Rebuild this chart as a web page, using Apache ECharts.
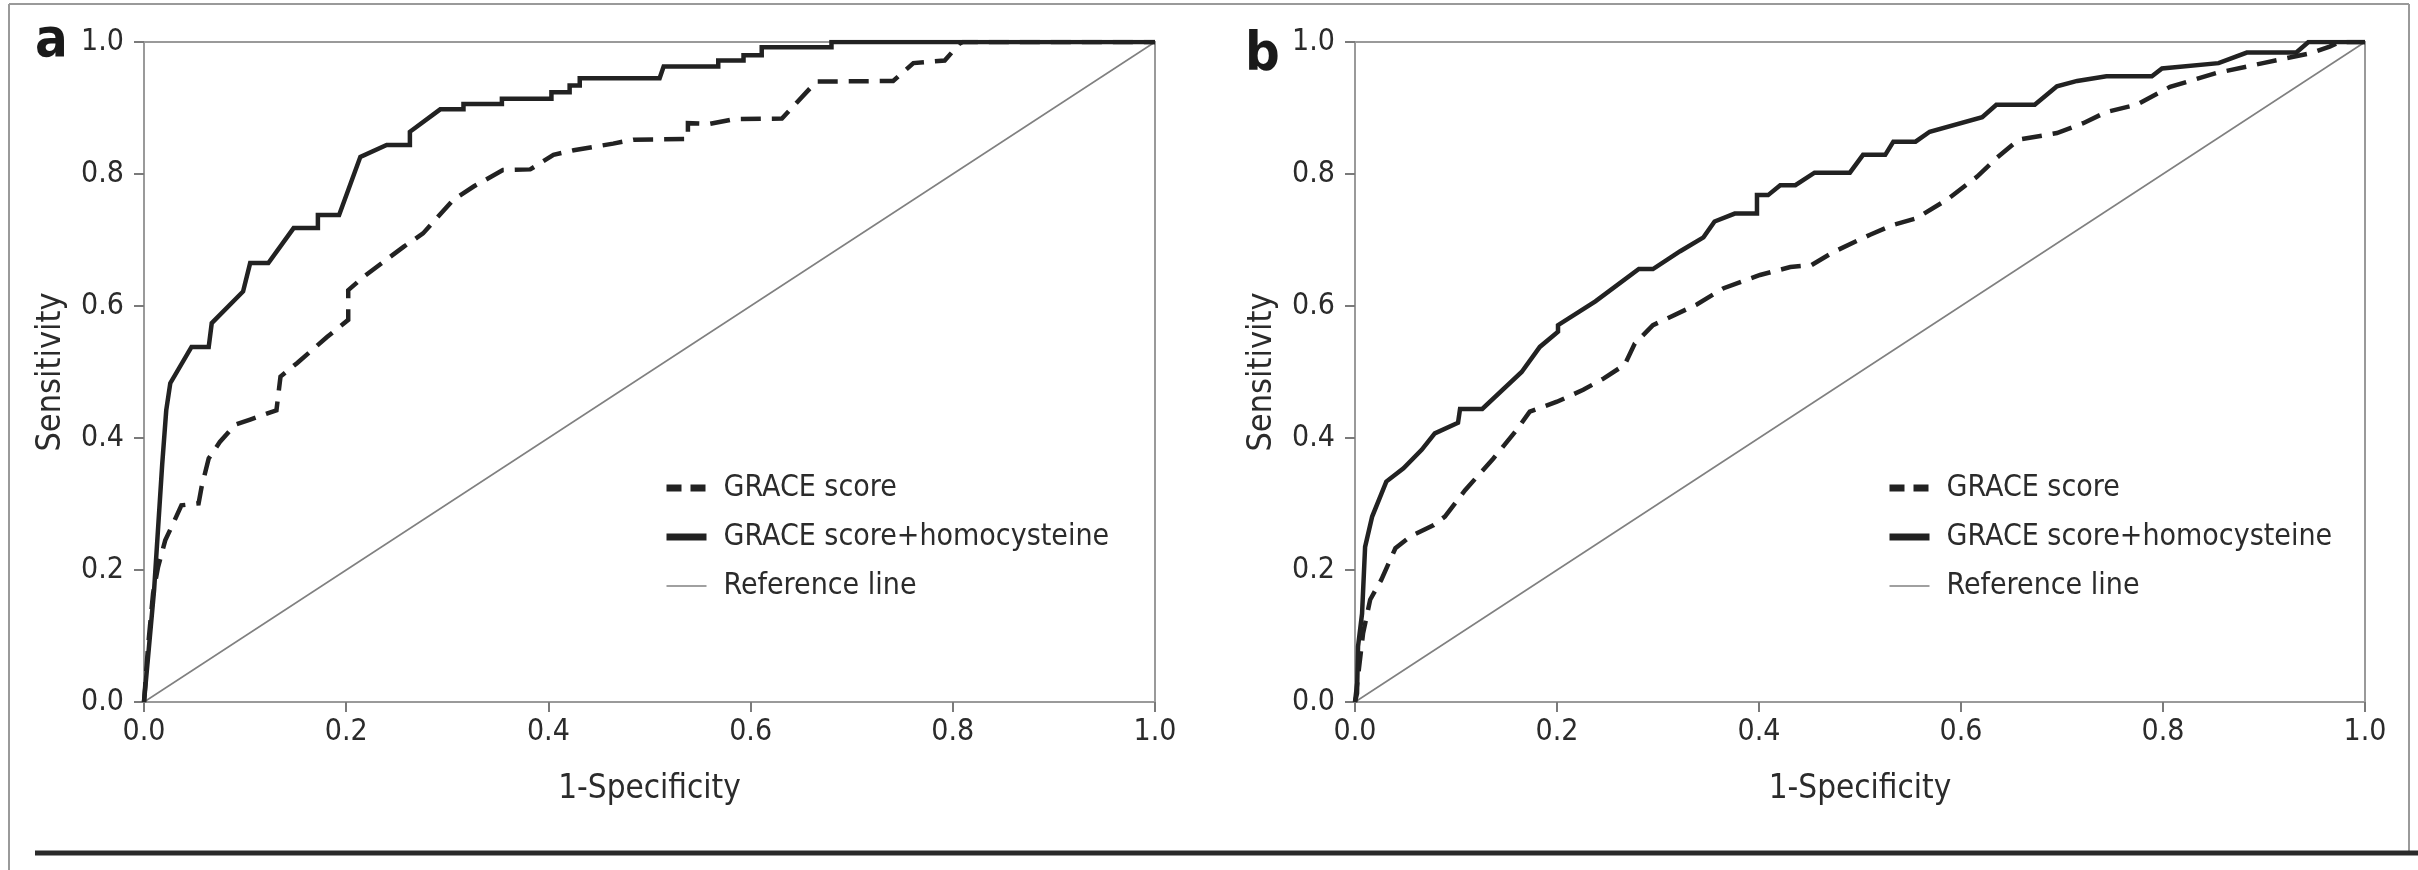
<!DOCTYPE html>
<html>
<head>
<meta charset="utf-8">
<title>ROC curves: GRACE score vs GRACE score + homocysteine</title>
<script src="https://cdn.jsdelivr.net/npm/echarts@6/dist/echarts.min.js"></script>
<style>
  html, body { margin: 0; padding: 0; background: #ffffff; }
  #chart { width: 2418px; height: 870px; }
</style>
</head>
<body>
<div id="chart"></div>
<script>
// ---- Data: ROC coordinates (1-specificity, sensitivity) ----

// Panel a
const aGraceFpr = [0, 0.004, 0.009, 0.014, 0.021, 0.029, 0.037, 0.054, 0.057, 0.064, 0.075, 0.090, 0.105, 0.131, 0.135, 0.151, 0.181, 0.202, 0.202, 0.217, 0.257, 0.276, 0.306, 0.326, 0.355, 0.382, 0.405, 0.425, 0.464, 0.484, 0.538, 0.538, 0.560, 0.583, 0.631, 0.665, 0.741, 0.761, 0.792, 0.807, 0.810, 1.0];
const aGraceTpr = [0, 0.084, 0.165, 0.205, 0.245, 0.271, 0.298, 0.301, 0.326, 0.369, 0.394, 0.420, 0.428, 0.442, 0.493, 0.513, 0.553, 0.579, 0.624, 0.644, 0.690, 0.710, 0.761, 0.781, 0.806, 0.807, 0.829, 0.836, 0.846, 0.852, 0.853, 0.877, 0.876, 0.883, 0.884, 0.940, 0.941, 0.968, 0.972, 0.998, 1.0, 1.0];

const aHcyFpr = [0, 0.010, 0.018, 0.022, 0.026, 0.047, 0.064, 0.067, 0.098, 0.105, 0.123, 0.148, 0.172, 0.172, 0.193, 0.214, 0.240, 0.263, 0.263, 0.293, 0.316, 0.316, 0.354, 0.354, 0.403, 0.403, 0.421, 0.421, 0.431, 0.431, 0.510, 0.514, 0.568, 0.568, 0.593, 0.593, 0.611, 0.611, 0.680, 0.680, 1.0];
const aHcyTpr = [0, 0.17, 0.36, 0.442, 0.483, 0.538, 0.538, 0.574, 0.622, 0.665, 0.665, 0.718, 0.718, 0.738, 0.738, 0.826, 0.844, 0.844, 0.864, 0.898, 0.898, 0.906, 0.906, 0.914, 0.914, 0.924, 0.924, 0.934, 0.934, 0.945, 0.945, 0.963, 0.963, 0.972, 0.972, 0.980, 0.980, 0.992, 0.992, 1.0, 1.0];

// Panel b
const bGraceFpr = [0, 0.008, 0.015, 0.026, 0.040, 0.055, 0.078, 0.089, 0.109, 0.137, 0.160, 0.173, 0.200, 0.226, 0.246, 0.267, 0.277, 0.295, 0.338, 0.365, 0.401, 0.431, 0.452, 0.474, 0.510, 0.533, 0.556, 0.586, 0.616, 0.635, 0.657, 0.695, 0.721, 0.744, 0.774, 0.807, 0.853, 0.899, 0.946, 0.965, 0.975, 1.0];
const bGraceTpr = [0, 0.104, 0.155, 0.185, 0.233, 0.251, 0.268, 0.281, 0.321, 0.369, 0.412, 0.440, 0.455, 0.473, 0.490, 0.511, 0.543, 0.571, 0.602, 0.627, 0.647, 0.659, 0.662, 0.682, 0.708, 0.723, 0.733, 0.761, 0.796, 0.824, 0.852, 0.862, 0.877, 0.894, 0.905, 0.932, 0.953, 0.968, 0.983, 0.993, 1.0, 1.0];

const bHcyFpr = [0, 0.002, 0.003, 0.007, 0.010, 0.017, 0.031, 0.048, 0.066, 0.079, 0.102, 0.104, 0.126, 0.165, 0.183, 0.201, 0.201, 0.238, 0.281, 0.295, 0.322, 0.345, 0.356, 0.376, 0.398, 0.398, 0.409, 0.421, 0.436, 0.455, 0.490, 0.503, 0.525, 0.533, 0.555, 0.569, 0.621, 0.635, 0.673, 0.695, 0.715, 0.744, 0.789, 0.799, 0.855, 0.883, 0.932, 0.944, 1.0];
const bHcyTpr = [0, 0.013, 0.084, 0.134, 0.235, 0.281, 0.334, 0.354, 0.382, 0.407, 0.423, 0.444, 0.444, 0.500, 0.538, 0.561, 0.571, 0.607, 0.656, 0.656, 0.683, 0.704, 0.728, 0.740, 0.740, 0.768, 0.768, 0.783, 0.783, 0.802, 0.802, 0.829, 0.829, 0.849, 0.849, 0.864, 0.886, 0.905, 0.905, 0.933, 0.941, 0.948, 0.948, 0.960, 0.968, 0.984, 0.984, 1.0, 1.0];

// Chance diagonal
const refFpr = [0, 1];
const refTpr = [0, 1];

const seriesNames = ['GRACE score', 'GRACE score+homocysteine', 'Reference line'];
const panelLetters = ['a', 'b'];
const xAxisTitle = '1-Specificity';
const yAxisTitle = 'Sensitivity';

// ---- Styling ----
const FONT = "'DejaVu Sans Condensed', 'Liberation Sans Narrow', sans-serif";
const INK = '#222222';
const REF_GREY = '#808080';
const AXIS_GREY = '#9a9a9a';
const TEXT = '#2b2b2b';

const pairs = (xs, ys) => xs.map((x, i) => [x, ys[i]]);

const grids = [
  { left: 144, top: 42, width: 1011, height: 660 },
  { left: 1355, top: 42, width: 1010, height: 660 }
];

function makeXAxis(gi) {
  return {
    type: 'value', gridIndex: gi, min: 0, max: 1, interval: 0.2,
    axisLine: { show: true, onZero: false, lineStyle: { color: AXIS_GREY, width: 2 } },
    axisTick: { show: true, length: 10, lineStyle: { color: '#7a7a7a', width: 2 } },
    splitLine: { show: false },
    axisLabel: { formatter: v => v.toFixed(1), fontSize: 30, fontFamily: FONT, color: TEXT, margin: 15 },
    name: xAxisTitle, nameLocation: 'middle', nameGap: 71,
    nameTextStyle: { fontSize: 33, fontFamily: FONT, color: TEXT }
  };
}
function makeYAxis(gi) {
  return {
    type: 'value', gridIndex: gi, min: 0, max: 1, interval: 0.2,
    axisLine: { show: true, onZero: false, lineStyle: { color: AXIS_GREY, width: 2 } },
    axisTick: { show: true, length: 10, lineStyle: { color: '#7a7a7a', width: 2 } },
    splitLine: { show: false },
    axisLabel: { formatter: v => v.toFixed(1), fontSize: 30, fontFamily: FONT, color: TEXT, margin: 20 },
    name: yAxisTitle, nameLocation: 'middle', nameGap: 76,
    nameTextStyle: { fontSize: 34, fontFamily: FONT, color: TEXT }
  };
}

function panelSeries(gi, graceX, graceY, hcyX, hcyY) {
  return [
    {
      name: seriesNames[2], type: 'line', xAxisIndex: gi, yAxisIndex: gi,
      data: pairs(refFpr, refTpr), symbol: 'none', silent: true, z: 1,
      itemStyle: { color: REF_GREY },
      lineStyle: { color: REF_GREY, width: 1.6 }
    },
    {
      name: seriesNames[0], type: 'line', xAxisIndex: gi, yAxisIndex: gi,
      data: pairs(graceX, graceY), symbol: 'none', silent: true, z: 2,
      itemStyle: { color: INK },
      lineStyle: { color: INK, width: 4.5, type: [20, 11], cap: 'butt', join: 'miter' }
    },
    {
      name: seriesNames[1], type: 'line', xAxisIndex: gi, yAxisIndex: gi,
      data: pairs(hcyX, hcyY), symbol: 'none', silent: true, z: 3,
      itemStyle: { color: INK },
      lineStyle: { color: INK, width: 4.5, join: 'miter' }
    }
  ];
}

function makeLegend(left) {
  const hidden = { opacity: 0, borderWidth: 0 };
  return {
    orient: 'vertical', left: left, top: 468, padding: 0,
    itemWidth: 40, itemHeight: 14, itemGap: 9,
    selectedMode: false,
    itemStyle: hidden,
    textStyle: { fontSize: 30, fontFamily: FONT, color: TEXT, lineHeight: 40, padding: [0, 0, 0, 12] },
    data: [
      { name: seriesNames[0], itemStyle: hidden, lineStyle: { color: INK, width: 7, type: [15, 9], opacity: 1 } },
      { name: seriesNames[1], itemStyle: hidden, lineStyle: { color: INK, width: 7, opacity: 1 } },
      { name: seriesNames[2], itemStyle: hidden, lineStyle: { color: REF_GREY, width: 1.6, opacity: 1 } }
    ]
  };
}

const option = {
  backgroundColor: '#ffffff',
  animation: false,
  grid: grids.map(g => Object.assign({ show: true, borderColor: AXIS_GREY, borderWidth: 2, backgroundColor: 'transparent' }, g)),
  xAxis: [makeXAxis(0), makeXAxis(1)],
  yAxis: [makeYAxis(0), makeYAxis(1)],
  legend: [makeLegend(663), makeLegend(1886)],
  series: [
    ...panelSeries(0, aGraceFpr, aGraceTpr, aHcyFpr, aHcyTpr),
    ...panelSeries(1, bGraceFpr, bGraceTpr, bHcyFpr, bHcyTpr)
  ],
  graphic: [
    // figure frame
    { type: 'line', silent: true, shape: { x1: 9, y1: 4, x2: 2409, y2: 4 }, style: { stroke: AXIS_GREY, lineWidth: 2 } },
    { type: 'line', silent: true, shape: { x1: 9, y1: 4, x2: 9, y2: 870 }, style: { stroke: AXIS_GREY, lineWidth: 2 } },
    { type: 'line', silent: true, shape: { x1: 2409, y1: 4, x2: 2409, y2: 853 }, style: { stroke: AXIS_GREY, lineWidth: 2 } },
    { type: 'line', silent: true, shape: { x1: 35, y1: 853, x2: 2418, y2: 853 }, style: { stroke: '#2a2a2a', lineWidth: 5 } },
    // panel letters
    { type: 'text', silent: true, x: 35, y: 15, style: { text: panelLetters[0], font: "bold 54px " + FONT, fill: '#1a1a1a', verticalAlign: 'top' } },
    { type: 'text', silent: true, x: 1245, y: 29, style: { text: panelLetters[1], font: "bold 54px " + FONT, fill: '#1a1a1a', verticalAlign: 'top' } }
  ]
};

const chart = echarts.init(document.getElementById('chart'), null, { renderer: 'canvas' });
chart.setOption(option);
</script>
</body>
</html>
